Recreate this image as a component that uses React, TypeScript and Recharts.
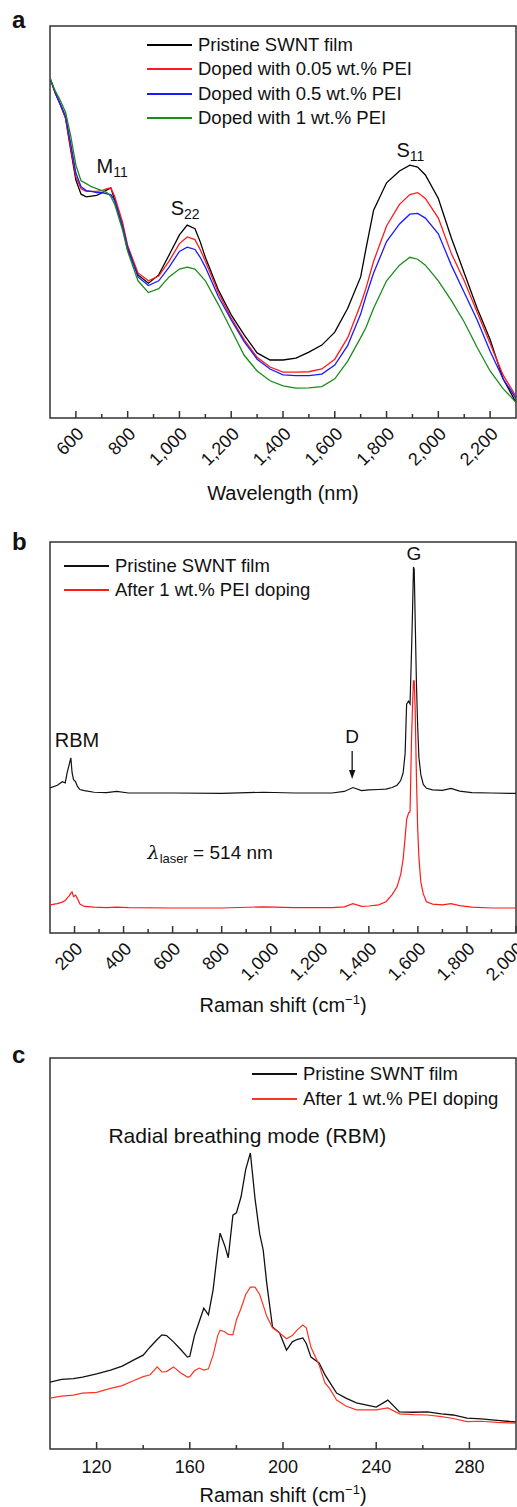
import React from 'react';
import { LineChart, Line, XAxis, YAxis, ReferenceArea, ReferenceDot, Legend } from 'recharts';

const FONT = '"Liberation Sans", Arial, Helvetica, sans-serif';
const INK = '#111';
const AXIS = '#333';

// ---- panel a: absorbance ----
const aWavelength = [500, 520, 540, 560, 580, 600, 620, 640, 660, 680, 700, 720, 735, 750, 780, 800, 840, 880, 920, 960, 1000, 1030, 1060, 1080, 1100, 1150, 1200, 1250, 1300, 1350, 1400, 1450, 1500, 1550, 1600, 1650, 1700, 1720, 1750, 1800, 1850, 1890, 1920, 1950, 2000, 2050, 2100, 2150, 2200, 2250, 2300];
const aPristine = [0.867, 0.83, 0.8, 0.765, 0.684, 0.607, 0.571, 0.564, 0.566, 0.568, 0.574, 0.582, 0.587, 0.556, 0.487, 0.429, 0.365, 0.344, 0.365, 0.416, 0.467, 0.492, 0.483, 0.45, 0.41, 0.327, 0.263, 0.212, 0.166, 0.148, 0.148, 0.153, 0.168, 0.186, 0.219, 0.28, 0.36, 0.43, 0.53, 0.6, 0.63, 0.645, 0.64, 0.62, 0.56, 0.46, 0.37, 0.28, 0.2, 0.1, 0.04];
const aDoped005 = [0.867, 0.83, 0.8, 0.765, 0.69, 0.615, 0.585, 0.578, 0.578, 0.578, 0.58, 0.585, 0.587, 0.565, 0.5, 0.44, 0.37, 0.35, 0.362, 0.4, 0.445, 0.462, 0.455, 0.43, 0.4, 0.32, 0.255, 0.2, 0.155, 0.13, 0.117, 0.117, 0.118, 0.125, 0.15, 0.205, 0.29, 0.33, 0.4, 0.49, 0.545, 0.57, 0.575, 0.56, 0.51, 0.42, 0.35, 0.27, 0.19, 0.11, 0.055];
const aDoped05 = [0.867, 0.83, 0.8, 0.77, 0.7, 0.625, 0.59, 0.58, 0.578, 0.575, 0.575, 0.572, 0.57, 0.555, 0.49, 0.435, 0.36, 0.338, 0.35, 0.385, 0.425, 0.436, 0.43, 0.41, 0.385, 0.31, 0.25, 0.195, 0.15, 0.125, 0.11, 0.108, 0.108, 0.112, 0.135, 0.185, 0.265, 0.31, 0.37, 0.45, 0.495, 0.52, 0.522, 0.51, 0.47, 0.39, 0.32, 0.25, 0.17, 0.1, 0.05];
const aDoped1 = [0.867, 0.835, 0.81, 0.78, 0.72, 0.645, 0.605, 0.598, 0.59, 0.585, 0.58, 0.575, 0.565, 0.545, 0.48, 0.425, 0.35, 0.32, 0.33, 0.36, 0.38, 0.385, 0.38, 0.365, 0.35, 0.29, 0.225, 0.16, 0.12, 0.095, 0.082, 0.076, 0.077, 0.08, 0.1, 0.145, 0.205, 0.23, 0.28, 0.35, 0.39, 0.41, 0.405, 0.39, 0.35, 0.3, 0.245, 0.18, 0.12, 0.075, 0.04];
const aTicks = [600, 700, 800, 900, 1000, 1100, 1200, 1300, 1400, 1500, 1600, 1700, 1800, 1900, 2000, 2100, 2200];
const aNames = ['Pristine SWNT film', 'Doped with 0.05 wt.% PEI', 'Doped with 0.5 wt.% PEI', 'Doped with 1 wt.% PEI'];
const aColors = ['#000000', '#ff1a1a', '#1a1aff', '#1a8c1a'];

// ---- panel b: raman full range ----
const bShift = [100, 130, 150, 162, 170, 178, 185, 190, 196, 204, 212, 222, 240, 280, 330, 372, 420, 600, 800, 970, 1100, 1250, 1300, 1335, 1370, 1400, 1440, 1470, 1495, 1515, 1530, 1540, 1548, 1554, 1562, 1568, 1574, 1578, 1582, 1585, 1589, 1594, 1599, 1604, 1612, 1622, 1635, 1660, 1700, 1735, 1770, 1820, 1900, 2000];
const bPristine = [0.371, 0.378, 0.387, 0.384, 0.41, 0.43, 0.448, 0.41, 0.392, 0.387, 0.375, 0.367, 0.364, 0.36, 0.359, 0.362, 0.358, 0.358, 0.357, 0.36, 0.358, 0.358, 0.362, 0.372, 0.364, 0.366, 0.367, 0.368, 0.372, 0.378, 0.39, 0.41, 0.46, 0.585, 0.593, 0.586, 0.72, 0.82, 0.936, 0.93, 0.8, 0.64, 0.53, 0.45, 0.405, 0.38, 0.37, 0.366, 0.365, 0.37, 0.363, 0.359, 0.358, 0.357];
const bDoped = [0.072, 0.075, 0.079, 0.083, 0.089, 0.095, 0.102, 0.105, 0.093, 0.097, 0.088, 0.074, 0.068, 0.066, 0.065, 0.066, 0.065, 0.064, 0.064, 0.067, 0.065, 0.065, 0.067, 0.075, 0.068, 0.069, 0.072, 0.08, 0.098, 0.118, 0.15, 0.19, 0.245, 0.29, 0.307, 0.31, 0.494, 0.58, 0.645, 0.645, 0.57, 0.4, 0.27, 0.194, 0.13, 0.1, 0.08, 0.074, 0.072, 0.075, 0.07, 0.066, 0.064, 0.064];
const bTicks = [200, 300, 400, 500, 600, 700, 800, 900, 1000, 1100, 1200, 1300, 1400, 1500, 1600, 1700, 1800, 1900, 2000];
const ramanNames = ['Pristine SWNT film', 'After 1 wt.% PEI doping'];
const bColors = ['#111111', '#ff1a1a'];

// ---- panel c: RBM zoom ----
const cShift = [100, 105, 110, 114, 120, 126, 131, 136, 140, 143, 146, 148, 150, 153, 156, 159, 160, 162, 164, 166, 168, 170, 172, 173, 175, 176.5, 178.5, 180, 182, 184, 186, 188, 190, 191.5, 193, 195.5, 198.5, 201.5, 204, 206, 208.5, 210, 212, 215.5, 218, 220, 223, 227, 231.5, 236, 240, 245, 250, 256, 262, 268, 273, 279, 285, 292, 300];
const cPristine = [0.171, 0.178, 0.18, 0.184, 0.192, 0.202, 0.212, 0.228, 0.24, 0.261, 0.28, 0.292, 0.29, 0.274, 0.255, 0.235, 0.237, 0.29, 0.325, 0.36, 0.343, 0.407, 0.509, 0.552, 0.52, 0.489, 0.598, 0.604, 0.645, 0.715, 0.757, 0.64, 0.55, 0.509, 0.425, 0.312, 0.297, 0.253, 0.274, 0.28, 0.284, 0.27, 0.235, 0.22, 0.19, 0.171, 0.143, 0.13, 0.118, 0.112, 0.107, 0.125, 0.095, 0.094, 0.095, 0.09, 0.087, 0.079, 0.077, 0.073, 0.069];
const cDoped = [0.13, 0.135, 0.138, 0.143, 0.145, 0.155, 0.162, 0.175, 0.185, 0.19, 0.21, 0.197, 0.198, 0.21, 0.195, 0.184, 0.185, 0.2, 0.207, 0.202, 0.205, 0.24, 0.29, 0.304, 0.3, 0.293, 0.292, 0.33, 0.36, 0.395, 0.414, 0.414, 0.395, 0.368, 0.34, 0.31, 0.297, 0.282, 0.29, 0.304, 0.317, 0.31, 0.26, 0.215, 0.169, 0.155, 0.125, 0.11, 0.1, 0.1, 0.1, 0.105, 0.09, 0.088, 0.087, 0.083, 0.078, 0.07, 0.071, 0.068, 0.066];
const cTicks = [120, 140, 160, 180, 200, 220, 240, 260, 280];
const cColors = ['#111111', '#ff3322'];

const aData = aWavelength.map((w, i) => ({ w, p: aPristine[i], d1: aDoped005[i], d2: aDoped05[i], d3: aDoped1[i] }));
const bData = bShift.map((s, i) => ({ s, p: bPristine[i], d: bDoped[i] }));
const cData = cShift.map((s, i) => ({ s, p: cPristine[i], d: cDoped[i] }));

// ticks point inward, label only on the major ones
const RotTick = (props: any) => {
  const { x, y, payload, every } = props;
  const major = payload.value % every === 0;
  const ax = x + 9;
  const ay = y + 17;
  return (
    <g>
      <line x1={x} y1={y} x2={x} y2={y - (major ? 7 : 4)} stroke={AXIS} strokeWidth={1.5} />
      {major && (
        <text x={ax} y={ay} textAnchor="end" transform={`rotate(-45, ${ax}, ${ay})`} fontFamily={FONT} fontSize={18} fill={INK}>
          {payload.value.toLocaleString('en-US')}
        </text>
      )}
    </g>
  );
};

const FlatTick = (props: any) => {
  const { x, y, payload, every } = props;
  const major = payload.value % every === 0;
  return (
    <g>
      <line x1={x} y1={y} x2={x} y2={y - (major ? 7 : 4)} stroke={AXIS} strokeWidth={1.5} />
      {major && (
        <text x={x} y={y + 24} textAnchor="middle" fontFamily={FONT} fontSize={18} fill={INK}>
          {payload.value}
        </text>
      )}
    </g>
  );
};

const XTitle = (props: any) => {
  const { viewBox, dy, children } = props;
  return (
    <text x={viewBox.x + viewBox.width / 2} y={viewBox.y + dy} textAnchor="middle" fontFamily={FONT} fontSize={20} fill={INK}>
      {children}
    </text>
  );
};

const YTitle = (props: any) => {
  const { viewBox, text } = props;
  const x = viewBox.x - 28;
  const y = viewBox.y + viewBox.height / 2;
  return (
    <text x={x} y={y} transform={`rotate(-90, ${x}, ${y})`} textAnchor="middle" dominantBaseline="central" fontFamily={FONT} fontSize={20} fill={INK}>
      {text}
    </text>
  );
};

const ramanTitle = [
  <tspan key="a">Raman shift (cm</tspan>,
  <tspan key="b" dy={-8} fontSize={13}>−1</tspan>,
  <tspan key="c" dy={8}>)</tspan>,
];

// legend drawn in series order (recharts would sort it by name)
const LegendBox = ({ names, colors, rowH }: any) => (
  <div style={{ fontFamily: FONT, fontSize: 18.5, color: INK, whiteSpace: 'nowrap' }}>
    {names.map((n: string, i: number) => (
      <div key={n} style={{ display: 'flex', alignItems: 'center', height: rowH }}>
        <span style={{ display: 'inline-block', width: 45, height: 2, background: colors[i], marginRight: 6 }} />
        <span>{n}</span>
      </div>
    ))}
  </div>
);

const SubText = (props: any) => {
  const { cx, cy, main, sub } = props;
  return (
    <text x={cx} y={cy} textAnchor="middle" fontFamily={FONT} fontSize={20} fill={INK}>
      {main}
      <tspan fontSize={14} dy={4}>{sub}</tspan>
    </text>
  );
};

const PlainText = (props: any) => {
  const { cx, cy, text, size, anchor } = props;
  return (
    <text x={cx} y={cy} textAnchor={anchor || 'middle'} fontFamily={FONT} fontSize={size || 19} fill={INK}>
      {text}
    </text>
  );
};

const DownArrow = (props: any) => {
  const { cx, cy } = props;
  return (
    <g>
      <line x1={cx} y1={cy - 28} x2={cx} y2={cy - 8} stroke={INK} strokeWidth={1.3} />
      <path d={`M${cx - 3.2},${cy - 9} L${cx + 3.2},${cy - 9} L${cx},${cy} Z`} fill={INK} />
    </g>
  );
};

const LaserText = (props: any) => {
  const { cx, cy } = props;
  return (
    <text x={cx} y={cy} fontFamily={FONT} fontSize={19} fill={INK}>
      <tspan fontStyle="italic" fontFamily='"DejaVu Serif", serif'>λ</tspan>
      <tspan fontSize={13} dy={4}>laser</tspan>
      <tspan dy={-4}> = 514 nm</tspan>
    </text>
  );
};

const panelLetter = (ch: string, top: number) => (
  <div style={{ position: 'absolute', left: 12, top, fontFamily: FONT, fontWeight: 'bold', fontSize: 24, lineHeight: '24px', color: INK }}>{ch}</div>
);

export default function App() {
  return (
    <div style={{ position: 'absolute', left: 0, top: 0, width: 517, height: 1507, background: '#fff', overflow: 'hidden' }}>
      {panelLetter('a', 8)}
      {panelLetter('b', 530)}
      {panelLetter('c', 1043)}

      <div style={{ position: 'absolute', left: 0, top: 0 }}>
        <LineChart width={517} height={505} data={aData} margin={{ top: 26, right: 1, bottom: 0, left: 50 }}>
          <XAxis dataKey="w" type="number" domain={[500, 2300]} ticks={aTicks} interval={0} allowDataOverflow
            axisLine={false} tickLine={false} tickSize={0} tickMargin={0} height={87}
            tick={<RotTick every={200} />} label={<XTitle dy={81.5}>Wavelength (nm)</XTitle>} />
          <YAxis type="number" domain={[0, 1]} width={0} tick={false} axisLine={false} tickLine={false}
            label={<YTitle text="Absorbance (a.u.)" />} />
          <ReferenceArea x1={500} x2={2300} y1={0} y2={1} fill="none" stroke={AXIS} strokeWidth={1.5} />
          <Legend layout="vertical" align="center" verticalAlign="middle"
            wrapperStyle={{ top: 33, left: 147, width: 300 }}
            content={() => <LegendBox names={aNames} colors={aColors} rowH={24.3} />} />
          <Line dataKey="p" name={aNames[0]} stroke={aColors[0]} strokeWidth={1.3} dot={false} isAnimationActive={false} />
          <Line dataKey="d1" name={aNames[1]} stroke={aColors[1]} strokeWidth={1.3} dot={false} isAnimationActive={false} />
          <Line dataKey="d2" name={aNames[2]} stroke={aColors[2]} strokeWidth={1.3} dot={false} isAnimationActive={false} />
          <Line dataKey="d3" name={aNames[3]} stroke={aColors[3]} strokeWidth={1.3} dot={false} isAnimationActive={false} />
          <ReferenceDot x={740} y={0.625} r={0} shape={(p: any) => <SubText {...p} main="M" sub="11" />} />
          <ReferenceDot x={1022} y={0.518} r={0} shape={(p: any) => <SubText {...p} main="S" sub="22" />} />
          <ReferenceDot x={1892} y={0.666} r={0} shape={(p: any) => <SubText {...p} main="S" sub="11" />} />
        </LineChart>
      </div>

      <div style={{ position: 'absolute', left: 0, top: 510 }}>
        <LineChart width={517} height={505} data={bData} margin={{ top: 32, right: 1, bottom: 0, left: 50 }}>
          <XAxis dataKey="s" type="number" domain={[100, 2000]} ticks={bTicks} interval={0} allowDataOverflow
            axisLine={false} tickLine={false} tickSize={0} tickMargin={0} height={82}
            tick={<RotTick every={200} />} label={<XTitle dy={79}>{ramanTitle}</XTitle>} />
          <YAxis type="number" domain={[0, 1]} width={0} tick={false} axisLine={false} tickLine={false}
            label={<YTitle text="Intensity (a.u.)" />} />
          <ReferenceArea x1={100} x2={2000} y1={0} y2={1} fill="none" stroke={AXIS} strokeWidth={1.5} />
          <Legend layout="vertical" align="center" verticalAlign="middle"
            wrapperStyle={{ top: 44, left: 64, width: 300 }}
            content={() => <LegendBox names={ramanNames} colors={bColors} rowH={24} />} />
          <Line dataKey="p" name={ramanNames[0]} stroke={bColors[0]} strokeWidth={1.2} dot={false} isAnimationActive={false} />
          <Line dataKey="d" name={ramanNames[1]} stroke={bColors[1]} strokeWidth={1.2} dot={false} isAnimationActive={false} />
          <ReferenceDot x={1584} y={0.955} r={0} shape={(p: any) => <PlainText {...p} text="G" size={19} />} />
          <ReferenceDot x={1332} y={0.486} r={0} shape={(p: any) => <PlainText {...p} text="D" size={19} />} />
          <ReferenceDot x={1332} y={0.394} r={0} shape={(p: any) => <DownArrow {...p} />} />
          <ReferenceDot x={210} y={0.476} r={0} shape={(p: any) => <PlainText {...p} text="RBM" size={20} />} />
          <ReferenceDot x={498} y={0.189} r={0} shape={(p: any) => <LaserText {...p} />} />
        </LineChart>
      </div>

      <div style={{ position: 'absolute', left: 0, top: 1020 }}>
        <LineChart width={517} height={487} data={cData} margin={{ top: 38, right: 1, bottom: 0, left: 50 }}>
          <XAxis dataKey="s" type="number" domain={[100, 300]} ticks={cTicks} interval={0} allowDataOverflow
            axisLine={false} tickLine={false} tickSize={0} tickMargin={0} height={58}
            tick={<FlatTick every={40} />} label={<XTitle dy={53}>{ramanTitle}</XTitle>} />
          <YAxis type="number" domain={[0, 1]} width={0} tick={false} axisLine={false} tickLine={false}
            label={<YTitle text="Intensity (a.u.)" />} />
          <ReferenceArea x1={100} x2={300} y1={0} y2={1} fill="none" stroke={AXIS} strokeWidth={1.5} />
          <Legend layout="vertical" align="center" verticalAlign="middle"
            wrapperStyle={{ top: 41, left: 252, width: 265 }}
            content={() => <LegendBox names={ramanNames} colors={cColors} rowH={25} />} />
          <Line dataKey="p" name={ramanNames[0]} stroke={cColors[0]} strokeWidth={1.3} dot={false} isAnimationActive={false} />
          <Line dataKey="d" name={ramanNames[1]} stroke={cColors[1]} strokeWidth={1.2} dot={false} isAnimationActive={false} />
          <ReferenceDot x={184.7} y={0.783} r={0} shape={(p: any) => <PlainText {...p} text="Radial breathing mode (RBM)" size={21} />} />
        </LineChart>
      </div>
    </div>
  );
}
